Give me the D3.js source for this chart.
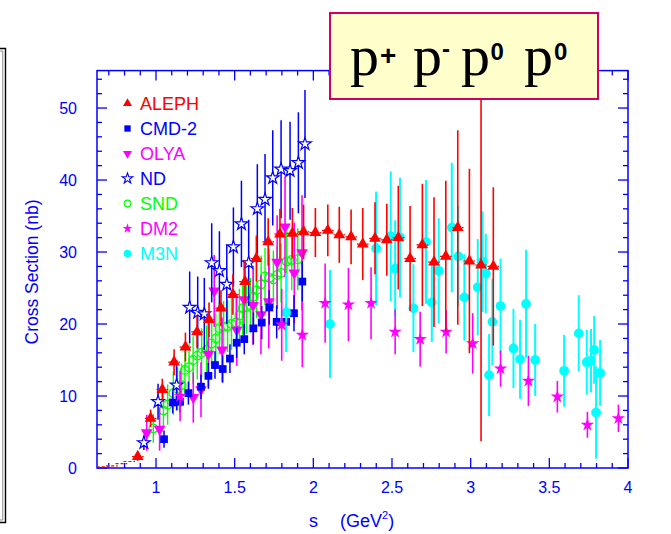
<!DOCTYPE html>
<html><head><meta charset="utf-8">
<script src="https://cdn.jsdelivr.net/npm/d3@7"></script>
<style>body{margin:0;background:#fff}svg{display:block}</style>
</head><body>
<svg id="c" width="671" height="534"></svg>
<script>
// ---- data: [s (GeV^2), cross section (nb), error] ----
const aleph = [[0.884,1.6,0.6],[0.966,6.9,1.2],[1.04,10.9,1.5],[1.115,14.7,1.8],[1.187,16.8,2.0],[1.261,18.9,2.2],[1.337,20.6,2.4],[1.413,22.2,2.5],[1.489,24.1,2.8],[1.566,25.9,3.0],[1.638,29.1,3.2],[1.713,31.4,3.3],[1.788,32.5,3.5],[1.867,32.6,3.5],[1.938,32.8,3.8],[2.013,32.7,3.4],[2.092,33.0,3.6],[2.165,32.4,3.9],[2.24,32.1,3.8],[2.314,31.1,5.0],[2.392,31.9,5.0],[2.467,31.7,5.0],[2.54,32.0,7.2],[2.615,29.1,7.3],[2.693,31.0,8.5],[2.767,28.6,9.0],[2.842,29.4,10.5],[2.918,33.4,13.5],[2.992,28.75,12.8],[3.066,28.2,24.5],[3.144,28.0,11.0]];
const alephLow = [[0.66,0.15,0.1],[0.72,0.3,0.15],[0.78,0.6,0.2],[0.83,0.9,0.3]];
const cmd2 = [[1.051,4.0,1.2],[1.106,9.1,1.5],[1.153,9.2,1.5],[1.206,10.4,1.6],[1.286,11.3,1.7],[1.333,12.8,1.8],[1.375,14.3,1.9],[1.424,13.75,1.9],[1.47,15.2,2.0],[1.513,17.4,2.1],[1.561,17.9,2.1],[1.619,19.4,2.2],[1.672,20.2,2.3],[1.72,22.3,2.4],[1.767,20.3,2.3],[1.827,20.3,2.4],[1.877,21.5,2.5],[1.93,25.9,2.8]];
const olya = [[0.941,4.9,2.5],[1.023,5.4,3.0],[1.237,9.8,3.5],[1.286,10.9,3.8],[1.333,15.8,4.5],[1.37,24.6,5.0],[1.42,16.4,4.5],[1.513,19.2,5.0],[1.56,23.4,5.5],[1.617,22.6,5.5],[1.667,21.3,5.5],[1.717,23.1,6.5],[1.77,28.6,6.5],[1.82,33.5,7.0],[1.879,27.1,7.0],[1.928,29.9,8.0]];
const nd = [[0.923,3.5,1.0],[1.013,9.2,2.5],[1.131,11.5,3.5],[1.214,22.3,5.0],[1.265,21.6,5.0],[1.307,21.4,5.0],[1.354,28.5,5.5],[1.403,27.4,5.5],[1.45,25.5,5.5],[1.492,30.7,5.5],[1.543,33.9,6.0],[1.589,28.5,6.0],[1.644,36.0,6.2],[1.693,37.3,6.3],[1.742,40.3,6.6],[1.795,41.5,6.8],[1.852,41.3,6.8],[1.905,42.4,7.0],[1.947,45.0,7.5]];
const snd = [[0.983,5.5,2.0],[1.047,8.0,2.5],[1.074,8.8,2.8],[1.11,10.4,3.0],[1.137,11.0,3.0],[1.163,11.5,3.0],[1.184,13.6,3.2],[1.21,14.0,3.2],[1.236,15.0,3.3],[1.262,15.6,3.3],[1.29,16.0,3.4],[1.322,16.4,3.4],[1.354,17.3,3.5],[1.38,18.0,3.5],[1.403,19.4,3.6],[1.43,19.6,3.6],[1.455,19.7,3.6],[1.48,20.0,3.6],[1.509,20.2,3.7],[1.53,21.2,3.7],[1.551,22.2,3.8],[1.575,22.4,3.8],[1.6,22.6,3.8],[1.62,23.8,3.9],[1.64,24.7,3.9],[1.668,25.5,4.0],[1.693,26.6,4.0],[1.72,26.4,4.0],[1.746,26.2,4.0],[1.77,26.8,4.0],[1.795,27.1,4.1],[1.831,28.7,4.2],[1.863,28.9,4.2],[1.901,29.0,4.3]];
const dm2 = [[1.153,10.0,3.5],[1.799,19.9,5.0],[1.93,18.5,4.5],[2.075,22.9,5.5],[2.223,22.7,5.1],[2.367,22.9,5.0],[2.52,18.9,3.1],[2.679,17.9,3.8],[2.844,18.9,3.0],[3.013,17.3,4.2],[3.19,13.8,2.5],[3.367,12.1,3.5],[3.551,9.9,2.2],[3.742,6.0,1.8],[3.939,6.9,1.9]];
const m3n = [[1.827,21.6,5.5],[2.106,20.0,7.5],[2.399,30.5,7.9],[2.492,32.2,9.0],[2.52,27.7,6.7],[2.551,32.0,8.3],[2.636,22.2,6.1],[2.716,31.4,8.6],[2.753,23.0,5.5],[2.797,27.4,7.3],[2.88,33.4,9.0],[2.922,29.4,7.0],[2.96,23.7,6.0],[3.045,25.1,6.7],[3.075,28.65,7.0],[3.096,27.0,5.5],[3.117,12.9,5.7],[3.138,20.3,6.0],[3.19,22.5,6.6],[3.272,16.6,5.5],[3.314,15.1,5.5],[3.352,22.8,7.5],[3.41,15.0,5.0],[3.594,13.5,5.0],[3.687,18.7,5.3],[3.738,14.7,4.5],[3.765,14.9,4.4],[3.785,16.4,4.7],[3.797,7.7,6.4],[3.823,13.2,4.6]];
const legendNames = ["ALEPH","CMD-2","OLYA","ND","SND","DM2","M3N"];
const xTickLabels = ["1","1.5","2","2.5","3","3.5","4"];
const yTickLabels = ["0","10","20","30","40","50"];
const titleSups = ["+","-","0","0"];

const svg = d3.select("#c");
const L = 97, R = 628, T = 70.6, B = 468;
const x = d3.scaleLinear().domain([0.625, 4]).range([L, R]);
const y = d3.scaleLinear().domain([0, 55.2]).range([B, T]);
const AX = "#0000ff";
const FONT = "'Liberation Sans', Arial, sans-serif";

// left decorative box edge
svg.append("path").attr("d","M0,48.5H5.5V522.5H0").attr("fill","none").attr("stroke","#000").attr("stroke-width",1.4);
svg.append("path").attr("d","M0,51H2.8V520H0").attr("fill","none").attr("stroke","#888").attr("stroke-width",1);

// frame
svg.append("rect").attr("x",L).attr("y",T).attr("width",R-L).attr("height",B-T).attr("fill","none").attr("stroke",AX).attr("stroke-width",1.5);

// ticks
const gt = svg.append("g").attr("stroke",AX).attr("stroke-width",1.3);
const xMinor = d3.range(7, 40).map(d=>d/10).filter(v=>Math.abs(v*2-Math.round(v*2))>1e-6);
const xMajor = xTickLabels.map(Number);
xMinor.forEach(v=>{ const px=x(v); gt.append("line").attr("x1",px).attr("x2",px).attr("y1",B).attr("y2",B-5); gt.append("line").attr("x1",px).attr("x2",px).attr("y1",T).attr("y2",T+5);});
xMajor.forEach(v=>{ const px=x(v); gt.append("line").attr("x1",px).attr("x2",px).attr("y1",B).attr("y2",B-10); gt.append("line").attr("x1",px).attr("x2",px).attr("y1",T).attr("y2",T+10);});
const yMinor = d3.range(2, 56, 2).filter(v=>v%10!==0);
const yMajor = yTickLabels.map(Number);
yMinor.forEach(v=>{ const py=y(v); gt.append("line").attr("x1",L).attr("x2",L+5).attr("y1",py).attr("y2",py); gt.append("line").attr("x1",R).attr("x2",R-5).attr("y1",py).attr("y2",py);});
yMajor.forEach(v=>{ const py=y(v); gt.append("line").attr("x1",L).attr("x2",L+10).attr("y1",py).attr("y2",py); gt.append("line").attr("x1",R).attr("x2",R-10).attr("y1",py).attr("y2",py);});

// tick labels
xTickLabels.forEach(t=>{ svg.append("text").attr("x",x(+t)).attr("y",B+25).attr("text-anchor","middle").attr("font-family",FONT).attr("font-size",16).attr("fill",AX).text(t);});
yTickLabels.forEach(t=>{ svg.append("text").attr("x",77).attr("y",y(+t)+6).attr("text-anchor","end").attr("font-family",FONT).attr("font-size",16).attr("fill",AX).text(t);});

// axis titles
const xt = svg.append("text").attr("x",309).attr("y",527).attr("font-family",FONT).attr("font-size",18).attr("fill",AX);
xt.append("tspan").text("s");
xt.append("tspan").attr("dx",22).text("(GeV");
xt.append("tspan").attr("dy",-8).attr("font-size",11).text("2");
xt.append("tspan").attr("dy",8).text(")");
svg.append("text").attr("transform","translate(38,272) rotate(-90)").attr("text-anchor","middle").attr("font-family",FONT).attr("font-size",17.5).attr("fill",AX).text("Cross Section  (nb)");

// clip
svg.append("clipPath").attr("id","clip").append("rect").attr("x",L).attr("y",T).attr("width",R-L).attr("height",B-T);
const plot = svg.append("g").attr("clip-path","url(#clip)");

function errBars(data, color, w){
  plot.append("g").selectAll("line").data(data).join("line")
    .attr("x1",d=>x(d[0])).attr("x2",d=>x(d[0]))
    .attr("y1",d=>y(d[1]+d[2])).attr("y2",d=>y(Math.max(0,d[1]-d[2])))
    .attr("stroke",color).attr("stroke-width",w||1.6);
}
function markers(data, type, size, fill, stroke, sw, rot){
  const sym = d3.symbol().type(type).size(size);
  plot.append("g").selectAll("path").data(data).join("path")
    .attr("d",sym)
    .attr("transform",d=>`translate(${x(d[0])},${y(d[1])})${rot?" rotate(180)":""}`)
    .attr("fill",fill).attr("stroke",stroke||"none").attr("stroke-width",sw||0);
}

const RED="#ff0000", BLUE="#0000ff", MAG="#ff00ff", GRN="#00ff00", CYAN="#00ffff";

errBars(snd, GRN, 1.4);
markers(snd, d3.symbolCircle, 60, "none", GRN, 1.2);
errBars(olya, MAG, 1.6);
markers(olya, d3.symbolTriangle, 60, MAG, null, 0, true);
errBars(cmd2, BLUE, 1.5);
markers(cmd2, d3.symbolSquare, 60, BLUE);
errBars(nd, BLUE, 1.5);
markers(nd, d3.symbolStar, 50, "#fff", BLUE, 1.2);
errBars(m3n, CYAN, 2);
markers(m3n, d3.symbolCircle, 75, CYAN);
errBars(dm2, MAG, 1.6);
markers(dm2, d3.symbolStar, 55, MAG);
errBars(aleph, RED, 1.6);
plot.append("g").selectAll("line").data(aleph.concat(alephLow)).join("line")
  .attr("x1",d=>x(d[0]-0.037)).attr("x2",d=>x(d[0]+0.037))
  .attr("y1",d=>y(d[1])).attr("y2",d=>y(d[1]))
  .attr("stroke",RED).attr("stroke-width",1.2).attr("stroke-dasharray","3,2");
markers(aleph, d3.symbolTriangle, 60, RED);

// legend
const legendStyles = [
  {t:d3.symbolTriangle,s:35,f:RED,c:RED},
  {t:d3.symbolSquare,s:40,f:BLUE,c:BLUE},
  {t:d3.symbolTriangle,s:35,f:MAG,c:MAG,rot:true},
  {t:d3.symbolStar,s:35,f:"#fff",c:BLUE,st:BLUE},
  {t:d3.symbolCircle,s:35,f:"#fff",c:GRN,st:GRN},
  {t:d3.symbolStar,s:30,f:MAG,c:MAG},
  {t:d3.symbolCircle,s:45,f:CYAN,c:CYAN}
];
const lg = svg.append("g");
legendNames.forEach((n,i)=>{
  const st = legendStyles[i];
  const cy = 103.5 + i*25;
  lg.append("path").attr("d",d3.symbol().type(st.t).size(st.s)).attr("transform",`translate(127.5,${cy})${st.rot?" rotate(180)":""}`)
    .attr("fill",st.f).attr("stroke",st.st||"none").attr("stroke-width",st.st?1.1:0);
  lg.append("text").attr("x",140).attr("y",cy+6.5).attr("font-family",FONT).attr("font-size",18).attr("fill",st.c).text(n);
});

// title box
svg.append("rect").attr("x",330).attr("y",13).attr("width",268).attr("height",86).attr("fill","#ffffcc").attr("stroke","#cc0066").attr("stroke-width",2);
const SER = "'Liberation Serif','Times New Roman',serif";
const pX = [350, 413, 461, 524];
const supX = [380, 442, 490.5, 554];
const supY = [65, 57, 60, 60];
const supSize = [28, 24, 24, 24];
const title = svg.append("text").attr("fill","#000");
titleSups.forEach((s,i)=>{
  title.append("tspan").attr("x",pX[i]).attr("y",75).attr("font-family",SER).attr("font-size",58).text("p");
  title.append("tspan").attr("x",supX[i]).attr("y",supY[i]).attr("font-family",FONT).attr("font-weight","bold").attr("font-size",supSize[i]).text(s);
});
</script>
</body></html>
